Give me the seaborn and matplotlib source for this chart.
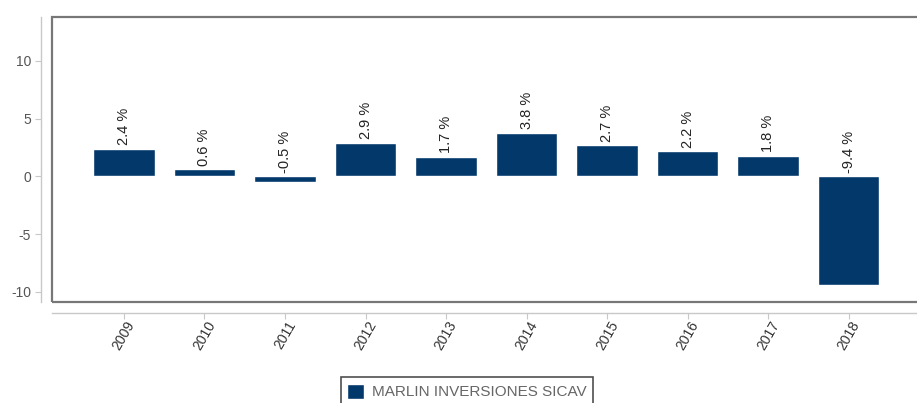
import matplotlib
matplotlib.use("Agg")
import matplotlib.pyplot as plt
from matplotlib.patches import Rectangle
import pandas as pd
import seaborn as sns

years = ["2009", "2010", "2011", "2012", "2013", "2014", "2015", "2016", "2017", "2018"]
returns = [2.4, 0.6, -0.5, 2.9, 1.7, 3.8, 2.7, 2.2, 1.8, -9.4]
fund = "MARLIN INVERSIONES SICAV"
y_ticks = [-10, -5, 0, 5, 10]

sns.set_theme(style="white")
plt.rcParams["font.family"] = ["Liberation Sans", "DejaVu Sans"]
plt.rcParams["axes.unicode_minus"] = False

df = pd.DataFrame({"year": years, "value": returns, "fund": fund})

W, H = 917, 403
fig = plt.figure(figsize=(W / 100, H / 100), dpi=100)
left, right, top, bottom = 52, 917, 17, 302
ax = fig.add_axes([left / W, 1 - bottom / H, (right - left) / W, (bottom - top) / H])

bar_color = "#02386a"
sns.barplot(data=df, x="year", y="value", hue="fund", palette=[bar_color],
            width=0.76, ax=ax, saturation=1, legend=True)

ax.set_xlim(-0.894, 9.85)
ax.set_ylim(-10.87, 13.8)
ax.set_yticks(y_ticks)
ax.set_xlabel("")
ax.set_ylabel("")

# value labels, rotated, sitting above the bar top (or the zero line for losses)
for i, v in enumerate(returns):
    ax.text(i, max(v, 0) + 0.3, f"{v} %", rotation=90, ha="center", va="bottom",
            fontsize=10.5, color="#222222")

# panel frame
ax.add_patch(Rectangle((0, 0), 1.2, 1, transform=ax.transAxes, fill=False,
                       edgecolor="#777777", linewidth=1.6, clip_on=False, zorder=5))

# detached axis lines
for side in ["top", "right"]:
    ax.spines[side].set_visible(False)
for side in ["left", "bottom"]:
    ax.spines[side].set_visible(True)
    ax.spines[side].set_color("#c8c8c8")
    ax.spines[side].set_linewidth(1.0)
ax.spines["left"].set_position(("outward", 8))
ax.spines["bottom"].set_position(("outward", 8))

ax.tick_params(axis="both", which="both", length=4, width=0.8, color="#c8c8c8",
               labelsize=10, labelcolor="#555555", direction="out")
ax.tick_params(axis="x", pad=0)
ax.tick_params(axis="y", left=True, pad=3)
ax.tick_params(axis="x", bottom=True)
for lab in ax.get_xticklabels():
    lab.set_rotation(60)
    lab.set_ha("center")
    lab.set_color("#333333")
    lab.set_fontsize(10)

handles, labels = ax.get_legend_handles_labels()
ax.get_legend().remove()
leg = fig.legend(handles, labels, loc="upper center", bbox_to_anchor=(467 / W, 1 - 377 / H),
                 frameon=True, fancybox=False, edgecolor="#222222", fontsize=11,
                 handlelength=1.1, handleheight=1.1, handletextpad=0.5,
                 borderpad=0.45, borderaxespad=0)
leg.get_frame().set_linewidth(1.2)
for t in leg.get_texts():
    t.set_color("#666666")

fig.savefig("out.png", dpi=100)
